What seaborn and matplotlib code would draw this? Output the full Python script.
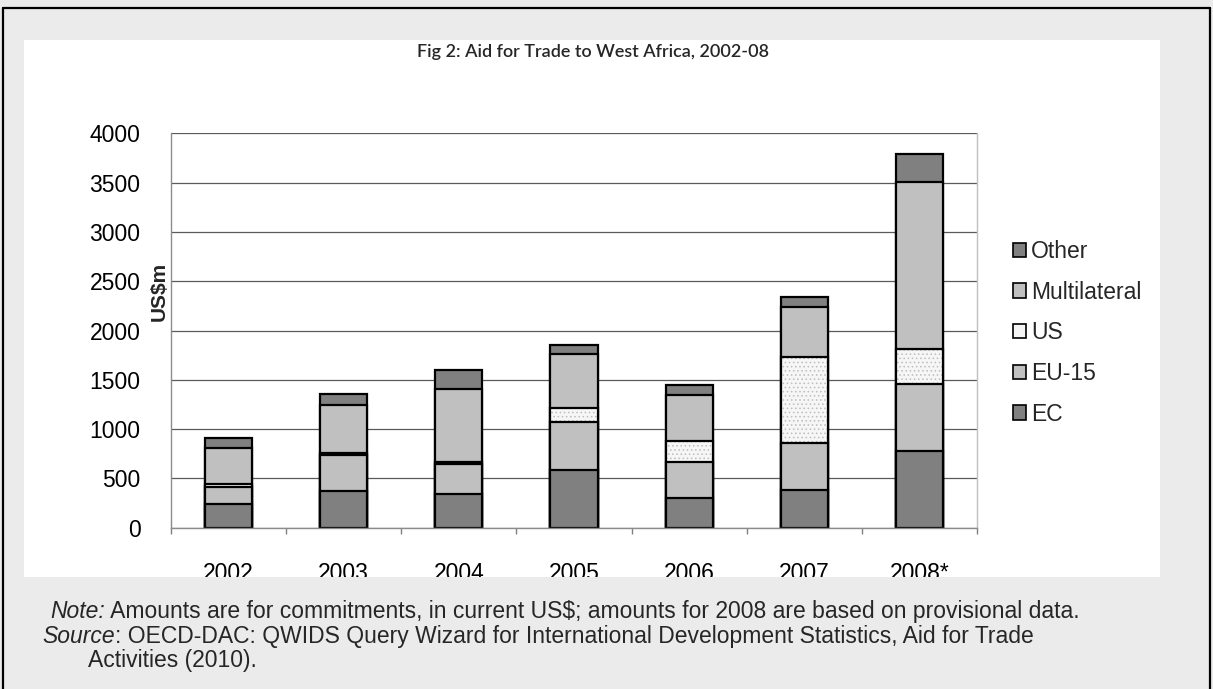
import matplotlib
matplotlib.use("Agg")
import matplotlib.pyplot as plt
from matplotlib.patches import Rectangle, Patch
from matplotlib.lines import Line2D
from matplotlib.transforms import Bbox, TransformedBbox
from matplotlib.ticker import FixedLocator
import pandas as pd
import seaborn as sns

# Aid for Trade commitments to West Africa, US$ million
years = ["2002", "2003", "2004", "2005", "2006", "2007", "2008*"]
ec = [240, 375, 338, 582, 300, 382, 778]
eu15 = [175, 359, 304, 490, 369, 480, 677]
us = [28, 26, 27, 145, 210, 873, 355]
multilateral = [362, 484, 735, 545, 467, 501, 1695]
other = [101, 112, 196, 91, 98, 108, 290]

y_ticks = list(range(0, 4001, 500))

sns.set_style("white")
plt.rcParams["font.family"] = ["Liberation Sans", "DejaVu Sans"]
plt.rcParams["hatch.linewidth"] = 0.6

W, H = 1213, 689
fig = plt.figure(figsize=(W / 100, H / 100), dpi=100, facecolor="#EBEBEB")

# white chart panel on the grey page
panel_bounds = (24 / W, 1 - 577 / H, 1136 / W, 537 / H)
fig.patches.append(Rectangle(panel_bounds[:2], panel_bounds[2], panel_bounds[3],
                             transform=fig.transFigure, facecolor="white",
                             edgecolor="none", zorder=-5))
# page frame
for xs, ys in [([3, 1210], [8, 8]), ([3, 3], [8, 689]), ([1210, 1210], [8, 689])]:
    fig.add_artist(Line2D([x / W for x in xs], [1 - y / H for y in ys],
                          color="black", lw=1.6, zorder=-4))

ax = fig.add_axes([171 / W, 1 - 527.6 / H, 806 / W, 394.2 / H])
ax.set_facecolor("none")
ax.set_axisbelow(True)

df = pd.DataFrame({"year": years, "EC": ec, "EU-15": eu15, "US": us,
                   "Multilateral": multilateral, "Other": other})
df["to_eu"] = df["EC"] + df["EU-15"]
df["to_us"] = df["to_eu"] + df["US"]
df["to_multi"] = df["to_us"] + df["Multilateral"]
df["total"] = df["to_multi"] + df["Other"]

dark, light = "#808080", "#C0C0C0"
bar_w = 0.41
lw = 1.6
common = dict(data=df, x="year", order=years, width=bar_w, errorbar=None,
              saturation=1, ax=ax)

# stacked bars: each cumulative level drawn over the previous, taller one
sns.barplot(y="total", color=dark, edgecolor="black", linewidth=lw, **common)
sns.barplot(y="to_multi", color=light, edgecolor="black", linewidth=lw, **common)
sns.barplot(y="to_us", color="#F6F6F6", edgecolor="#BDBDBD", linewidth=0,
            hatch="....", **common)
sns.barplot(y="to_us", facecolor="none", edgecolor="black", linewidth=lw, **common)
sns.barplot(y="to_eu", color=light, edgecolor="black", linewidth=lw, **common)
sns.barplot(y="EC", color=dark, edgecolor="black", linewidth=lw, **common)

ax.set_xlim(-0.5, len(years) - 0.5)
ax.set_ylim(0, 4000)
ax.set_yticks(y_ticks)
ax.set_yticklabels([str(v) for v in y_ticks])
ax.yaxis.grid(True, color="#5A5A5A", lw=0.9)
ax.xaxis.grid(False)

tick_size = 16.5
ax.tick_params(axis="y", length=0, pad=22, labelsize=tick_size, labelcolor="black")
ax.tick_params(axis="x", which="major", length=0, pad=25, labelsize=tick_size,
               labelcolor="black")
ax.xaxis.set_minor_locator(FixedLocator([i - 0.5 for i in range(len(years) + 1)]))
ax.tick_params(axis="x", which="minor", length=4, width=1, color="#808080",
               direction="out", bottom=True)

ax.spines["top"].set_visible(False)
ax.spines["left"].set_color("#8C8C8C")
ax.spines["bottom"].set_color("#8C8C8C")
ax.spines["right"].set_color("#BFBFBF")
for s in ("left", "bottom", "right"):
    ax.spines[s].set_linewidth(1.0)

ax.set_xlabel("")
ax.set_ylabel("US$m", fontsize=15, fontweight="bold")
ax.yaxis.set_label_coords(-0.014, 0.598)
ax.yaxis.label.set_va("center")

# year labels sit partly below the white panel and are cut off by it
clip = TransformedBbox(Bbox.from_bounds(*panel_bounds), fig.transFigure)
for lbl in ax.get_xticklabels():
    lbl.set_clip_box(clip)
    lbl.set_clip_on(True)

handles = [
    Patch(facecolor=dark, edgecolor="black", lw=1.2, label="Other"),
    Patch(facecolor=light, edgecolor="black", lw=1.2, label="Multilateral"),
    Patch(facecolor="#F4F4F4", edgecolor="black", lw=1.2, label="US"),
    Patch(facecolor=light, edgecolor="black", lw=1.2, label="EU-15"),
    Patch(facecolor=dark, edgecolor="black", lw=1.2, label="EC"),
]
fig.legend(handles=handles, loc="upper left",
           bbox_to_anchor=(1013 / W, 1 - 240 / H), bbox_transform=fig.transFigure,
           frameon=False, fontsize=16.5, borderpad=0, borderaxespad=0,
           handlelength=0.57, handleheight=0.57, handletextpad=0.22,
           labelspacing=0.77)

fig.text(593 / W, 1 - 52 / H, "Fig 2: Aid for Trade to West Africa, 2002-08",
         ha="center", va="center", fontsize=13, fontweight="semibold",
         family=["Lato", "DejaVu Sans"])

renderer = fig.canvas.get_renderer()
note_size = 16.5


def mixed_line(x, y, head, tail, size=note_size):
    t = fig.text(x / W, 1 - y / H, head, ha="left", va="baseline",
                 fontsize=size, style="italic")
    bb = t.get_window_extent(renderer)
    fig.text(bb.x1 / W, 1 - y / H, tail, ha="left", va="baseline", fontsize=size)


mixed_line(50, 618, "Note:",
           " Amounts are for commitments, in current US$; amounts for 2008 are based on provisional data.")
mixed_line(42, 643, "Source",
           ": OECD-DAC: QWIDS Query Wizard for International Development Statistics, Aid for Trade")
fig.text(88 / W, 1 - 667 / H, "Activities (2010).", ha="left", va="baseline",
         fontsize=note_size)

fig.savefig("out.png", dpi=100, facecolor=fig.get_facecolor())
